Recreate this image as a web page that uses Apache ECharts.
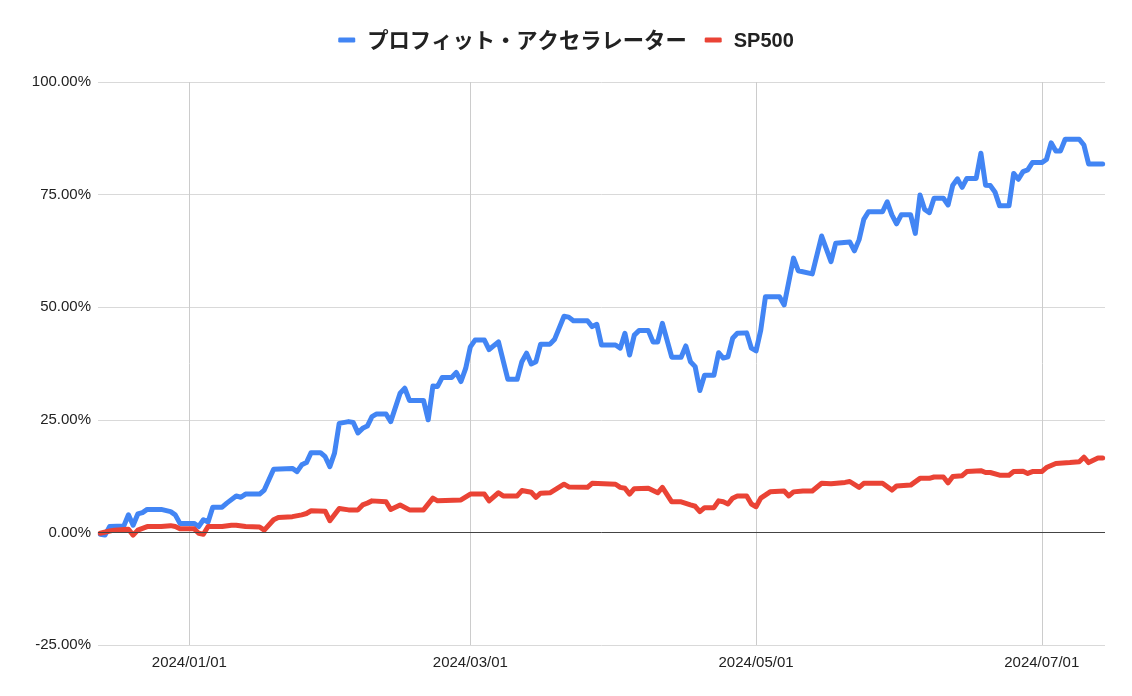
<!DOCTYPE html>
<html>
<head>
<meta charset="utf-8">
<script src="https://cdn.jsdelivr.net/npm/echarts@6/dist/echarts.min.js"></script>
<style>
html,body{margin:0;padding:0;background:#fff;}
#c{width:1132px;height:696px;}
</style>
</head>
<body>
<div id="c"></div>
<script>
var seriesNames = ['プロフィット・アクセラレーター', 'SP500'];
var yTicks = [-25, 0, 25, 50, 75, 100];
var xTickDates = ['2024-01-01', '2024-03-01', '2024-05-01', '2024-07-01'];

var blueDates = ['2023-12-13','2023-12-14','2023-12-15','2023-12-18','2023-12-19','2023-12-20','2023-12-21','2023-12-22','2023-12-23','2023-12-26','2023-12-28','2023-12-29','2023-12-30',
'2024-01-02','2024-01-03','2024-01-04','2024-01-05','2024-01-06','2024-01-08','2024-01-09','2024-01-11','2024-01-12','2024-01-13','2024-01-16','2024-01-17','2024-01-19','2024-01-23','2024-01-24','2024-01-25','2024-01-26','2024-01-27','2024-01-29','2024-01-30','2024-01-31',
'2024-02-01','2024-02-02','2024-02-04','2024-02-05','2024-02-06','2024-02-07','2024-02-08','2024-02-09','2024-02-10','2024-02-12','2024-02-13','2024-02-15','2024-02-16','2024-02-17','2024-02-20','2024-02-21','2024-02-22','2024-02-23','2024-02-24','2024-02-26','2024-02-27','2024-02-28','2024-02-29',
'2024-03-01','2024-03-02','2024-03-04','2024-03-05','2024-03-07','2024-03-09','2024-03-11','2024-03-12','2024-03-13','2024-03-14','2024-03-15','2024-03-16','2024-03-18','2024-03-19','2024-03-21','2024-03-22','2024-03-23','2024-03-26','2024-03-27','2024-03-28','2024-03-29',
'2024-04-01','2024-04-02','2024-04-03','2024-04-04','2024-04-05','2024-04-06','2024-04-08','2024-04-09','2024-04-10','2024-04-11','2024-04-13','2024-04-15','2024-04-16','2024-04-17','2024-04-18','2024-04-19','2024-04-20','2024-04-22','2024-04-23','2024-04-24','2024-04-25','2024-04-26','2024-04-27','2024-04-29','2024-04-30',
'2024-05-01','2024-05-02','2024-05-03','2024-05-06','2024-05-07','2024-05-09','2024-05-10','2024-05-13','2024-05-15','2024-05-17','2024-05-18','2024-05-21','2024-05-22','2024-05-23','2024-05-24','2024-05-25','2024-05-28','2024-05-29','2024-05-30','2024-05-31',
'2024-06-01','2024-06-03','2024-06-04','2024-06-05','2024-06-06','2024-06-07','2024-06-08','2024-06-10','2024-06-11','2024-06-12','2024-06-13','2024-06-14','2024-06-15','2024-06-17','2024-06-18','2024-06-19','2024-06-20','2024-06-21','2024-06-22','2024-06-24','2024-06-25','2024-06-26','2024-06-27','2024-06-28','2024-06-29',
'2024-07-01','2024-07-02','2024-07-03','2024-07-04','2024-07-05','2024-07-06','2024-07-09','2024-07-10','2024-07-11','2024-07-14'];
var blueValues = [-0.4,-0.6,1.3,1.4,3.9,1.6,4.1,4.4,5.1,5.1,4.6,3.9,2.0,
2.0,1.3,2.8,2.3,5.6,5.6,6.5,8.1,7.8,8.5,8.5,9.4,14.0,14.2,13.5,15.0,15.5,17.7,17.7,16.8,14.6,
17.6,24.2,24.6,24.4,22.1,23.1,23.6,25.7,26.3,26.3,24.6,30.9,32.0,29.3,29.3,25.0,32.5,32.4,34.4,34.4,35.5,33.5,36.4,
41.2,42.7,42.7,40.6,42.3,34.0,34.0,37.9,39.8,37.4,37.9,41.8,41.8,42.9,48.0,47.8,47.0,47.0,45.7,46.2,41.6,
41.6,40.9,44.2,39.4,43.8,44.8,44.8,42.3,42.3,46.4,38.9,38.9,41.4,37.9,36.8,31.5,34.9,34.9,39.9,38.7,39.0,43.1,44.2,44.3,40.9,
40.3,44.9,52.3,52.3,50.5,60.9,58.1,57.4,65.8,60.1,64.2,64.5,62.5,65.0,69.5,71.2,71.2,73.4,70.5,68.5,
70.5,70.5,66.4,74.9,71.7,71.0,74.2,74.2,72.7,77.1,78.5,76.6,78.6,78.6,84.2,77.1,77.0,75.6,72.5,72.5,79.7,78.4,80.1,80.5,82.1,
82.1,82.8,86.5,84.7,84.7,87.3,87.3,86.0,81.8,81.8];

var redDates = ['2023-12-13','2023-12-15','2023-12-16','2023-12-19','2023-12-20','2023-12-21','2023-12-23','2023-12-26','2023-12-28','2023-12-29','2023-12-30',
'2024-01-02','2024-01-03','2024-01-04','2024-01-05','2024-01-08','2024-01-10','2024-01-11','2024-01-13','2024-01-16','2024-01-17','2024-01-19','2024-01-20','2024-01-23','2024-01-25','2024-01-26','2024-01-27','2024-01-30','2024-01-31',
'2024-02-02','2024-02-04','2024-02-06','2024-02-07','2024-02-08','2024-02-09','2024-02-12','2024-02-13','2024-02-15','2024-02-17','2024-02-20','2024-02-22','2024-02-23','2024-02-28',
'2024-03-01','2024-03-04','2024-03-05','2024-03-07','2024-03-08','2024-03-11','2024-03-12','2024-03-14','2024-03-15','2024-03-16','2024-03-18','2024-03-21','2024-03-22','2024-03-26','2024-03-27',
'2024-04-01','2024-04-02','2024-04-03','2024-04-04','2024-04-05','2024-04-08','2024-04-10','2024-04-11','2024-04-13','2024-04-15','2024-04-17','2024-04-18','2024-04-19','2024-04-20','2024-04-22','2024-04-23','2024-04-24','2024-04-25','2024-04-26','2024-04-27','2024-04-29','2024-04-30',
'2024-05-01','2024-05-02','2024-05-04','2024-05-07','2024-05-08','2024-05-09','2024-05-11','2024-05-13','2024-05-15','2024-05-17','2024-05-20','2024-05-21','2024-05-23','2024-05-24','2024-05-28','2024-05-30','2024-05-31',
'2024-06-03','2024-06-05','2024-06-07','2024-06-08','2024-06-10','2024-06-11','2024-06-12','2024-06-14','2024-06-15','2024-06-18','2024-06-19','2024-06-20','2024-06-22','2024-06-24','2024-06-25','2024-06-27','2024-06-28','2024-06-29',
'2024-07-01','2024-07-02','2024-07-04','2024-07-07','2024-07-09','2024-07-10','2024-07-11','2024-07-13','2024-07-14'];
var redValues = [-0.2,0.3,0.5,0.7,-0.6,0.5,1.3,1.3,1.5,1.3,0.8,
0.8,-0.2,-0.4,1.3,1.3,1.6,1.6,1.3,1.2,0.5,2.8,3.3,3.5,3.9,4.2,4.8,4.7,2.6,
5.3,5.0,5.0,6.1,6.5,7.0,6.8,5.1,6.1,5.0,5.0,7.6,7.0,7.2,
8.5,8.5,7.0,8.8,8.1,8.1,9.3,8.9,7.8,8.7,8.8,10.7,10.1,10.0,10.9,
10.7,10.0,9.8,8.5,9.7,9.8,8.8,10.0,6.8,6.8,6.1,5.8,4.6,5.5,5.5,7.0,6.8,6.3,7.6,8.1,8.1,6.3,
5.7,7.6,9.0,9.2,8.1,9.0,9.2,9.2,10.9,10.8,11.1,11.3,10.0,10.9,10.9,9.4,10.3,
10.5,12.0,12.0,12.3,12.3,11.0,12.4,12.6,13.5,13.7,13.3,13.3,12.7,12.7,13.5,13.6,13.1,13.5,
13.5,14.4,15.3,15.5,15.7,16.7,15.5,16.5,16.5];

function toTime(s) {
  var p = s.split('-');
  return new Date(+p[0], +p[1] - 1, +p[2]).getTime();
}
function zip(dates, vals) {
  return dates.map(function (d, i) { return [toTime(d), vals[i]]; });
}
function pad(n) { return (n < 10 ? '0' : '') + n; }

var chart = echarts.init(document.getElementById('c'), null, { renderer: 'canvas' });
var fontLatin = "'Liberation Sans', Arial, 'Noto Sans CJK JP', sans-serif";
var tickTimes = xTickDates.map(toTime);

chart.setOption({
  animation: false,
  backgroundColor: '#ffffff',
  color: ['#4285F4', '#EA4335'],
  legend: {
    data: seriesNames,
    top: 21,
    left: 'center',
    icon: 'roundRect',
    itemWidth: 17,
    itemHeight: 5,
    itemGap: 18,
    formatter: function (name) {
      return name === seriesNames[0] ? '{jp|' + name + '}' : '{en|' + name + '}';
    },
    textStyle: {
      fontFamily: "'Liberation Sans', 'Noto Sans CJK JP', sans-serif",
      fontWeight: 'bold',
      fontSize: 20,
      lineHeight: 28,
      color: '#222222',
      padding: [0, 0, 0, 7],
      rich: {
        jp: { fontFamily: "'Noto Sans CJK JP', sans-serif", fontWeight: 'bold', fontSize: 21.3, lineHeight: 28, verticalAlign: 'middle', color: '#222222' },
        en: { fontFamily: "'Liberation Sans', Arial, sans-serif", fontWeight: 'bold', fontSize: 20, lineHeight: 28, verticalAlign: 'middle', color: '#222222', padding: [2, 0, 0, 0] }
      }
    }
  },
  grid: { left: 98, right: 27, top: 82, bottom: 51, containLabel: false },
  xAxis: {
    type: 'value',
    min: new Date(2023, 11, 12, 12).getTime(),
    max: new Date(2024, 6, 14, 12).getTime(),
    axisLine: { show: false },
    axisTick: { show: false, customValues: tickTimes },
    axisLabel: {
      customValues: tickTimes,
      margin: 10,
      fontFamily: fontLatin,
      fontSize: 15,
      color: '#222222',
      showMinLabel: true,
      showMaxLabel: true,
      formatter: function (v) {
        var d = new Date(v);
        return d.getFullYear() + '/' + pad(d.getMonth() + 1) + '/' + pad(d.getDate());
      }
    },
    splitLine: { show: true, lineStyle: { color: '#cccccc', width: 1 } }
  },
  yAxis: {
    type: 'value',
    min: yTicks[0],
    max: yTicks[yTicks.length - 1],
    interval: 25,
    axisLine: { show: false },
    axisTick: { show: false },
    axisLabel: {
      margin: 7,
      fontFamily: fontLatin,
      fontSize: 15,
      color: '#222222',
      formatter: function (v) { return v.toFixed(2) + '%'; }
    },
    splitLine: { show: true, lineStyle: { color: '#d9d9d9', width: 1 } }
  },
  series: [
    {
      type: 'line',
      data: [],
      z: 1,
      silent: true,
      markLine: {
        silent: true,
        symbol: ['none', 'none'],
        label: { show: false },
        lineStyle: { color: '#444444', width: 1, type: 'solid' },
        data: [{ yAxis: 0 }]
      }
    },
    {
      name: seriesNames[0],
      type: 'line',
      data: zip(blueDates, blueValues),
      showSymbol: false,
      symbol: 'none',
      lineStyle: { width: 5, color: '#4285F4', join: 'round', cap: 'round' },
      itemStyle: { color: '#4285F4' },
      z: 3
    },
    {
      name: seriesNames[1],
      type: 'line',
      data: zip(redDates, redValues),
      showSymbol: false,
      symbol: 'none',
      lineStyle: { width: 5, color: '#EA4335', join: 'round', cap: 'round' },
      itemStyle: { color: '#EA4335' },
      z: 4
    }
  ]
});
</script>
</body>
</html>
